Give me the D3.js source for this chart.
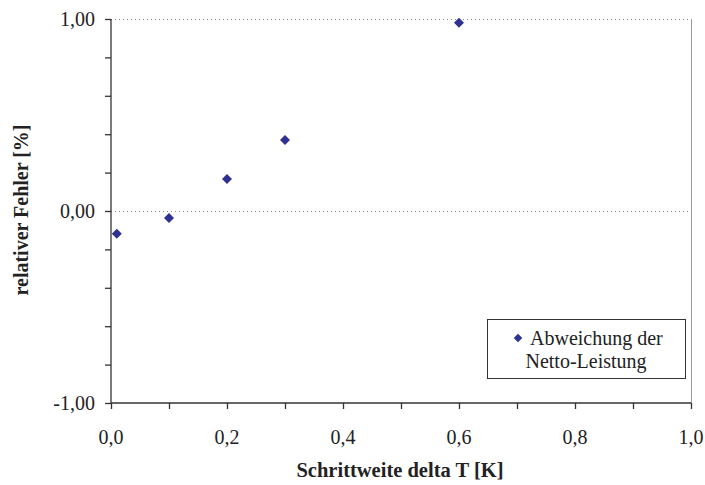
<!DOCTYPE html>
<html><head><meta charset="utf-8">
<script src="https://cdn.jsdelivr.net/npm/d3@7"></script>
<style>body{margin:0;background:#fff}svg{display:block}
text{font-family:"Liberation Serif",serif}</style>
</head><body>
<svg id="c" width="705" height="485"></svg>
<script>
const xValues = [0.01, 0.1, 0.2, 0.3, 0.6];
const yValues = [-0.118, -0.036, 0.167, 0.37, 0.98];
const seriesName = ["Abweichung der", "Netto-Leistung"];
const xTicks = [0, 0.2, 0.4, 0.6, 0.8, 1.0];
const yTicks = [-1, 0, 1];
const xTitle = "Schrittweite delta T [K]";
const yTitle = "relativer Fehler [%]";

const svg = d3.select("#c");
const L = 111, R = 691, T = 19, B = 403;
const x = d3.scaleLinear().domain([0, 1]).range([L, R]);
const y = d3.scaleLinear().domain([-1, 1]).range([B, T]);
const fmt = (d, n) => d.toFixed(n).replace(".", ",");

// gridlines (dotted)
svg.append("g").selectAll("line").data(yTicks.filter(d => d > -1)).join("line")
  .attr("x1", L).attr("x2", R).attr("y1", d => y(d)).attr("y2", d => y(d))
  .attr("stroke", "#888").attr("stroke-width", 1).attr("stroke-dasharray", "1,3")
  .attr("shape-rendering", "crispEdges");
// right border
svg.append("line").attr("x1", R).attr("x2", R).attr("y1", T).attr("y2", B)
  .attr("stroke", "#999").attr("stroke-width", 1).attr("shape-rendering", "crispEdges");

// axes
const xAxis = d3.axisBottom(x).tickValues(d3.range(0, 1.0001, 0.1)).tickSize(6).tickFormat("");
const gx = svg.append("g").attr("transform", `translate(0,${B})`).call(xAxis);
const yAxis = d3.axisLeft(y).tickValues(d3.range(-1, 1.0001, 0.2)).tickSize(6).tickFormat("");
const gy = svg.append("g").attr("transform", `translate(${L},0)`).call(yAxis);
[gx, gy].forEach(g => {
  g.selectAll("path,line").attr("stroke", "#333").attr("stroke-width", 1.3);
  g.select(".domain").attr("d", g === gx ? `M${L},0H${R}` : `M0,${T}V${B}`);
});

// tick labels
svg.append("g").selectAll("text").data(xTicks).join("text")
  .attr("x", d => x(d)).attr("y", 444).attr("text-anchor", "middle")
  .attr("font-size", 20).attr("fill", "#222")
  .text(d => fmt(d, 1));
svg.append("g").selectAll("text").data(yTicks).join("text")
  .attr("x", 95).attr("y", d => y(d) + 7).attr("text-anchor", "end")
  .attr("font-size", 20).attr("fill", "#222")
  .text(d => fmt(d, 2));

// titles
svg.append("text").attr("x", 400).attr("y", 477).attr("text-anchor", "middle")
  .attr("font-size", 20.5).attr("font-weight", "bold").attr("fill", "#222")
  .text(xTitle);
svg.append("text").attr("transform", `translate(28,210) rotate(-90)`).attr("text-anchor", "middle")
  .attr("font-size", 20).attr("font-weight", "bold").attr("fill", "#222")
  .text(yTitle);

// points
const diamond = d3.symbol().type(d3.symbolSquare).size(50);
svg.append("g").selectAll("path").data(xValues.map((v, i) => [v, yValues[i]])).join("path")
  .attr("d", diamond).attr("transform", d => `translate(${x(d[0])},${y(d[1])}) rotate(45)`)
  .attr("fill", "#2e3192");

// legend
const lg = svg.append("g");
lg.append("rect").attr("x", 487.5).attr("y", 319.5).attr("width", 198).attr("height", 59)
  .attr("fill", "#fff").attr("stroke", "#333").attr("stroke-width", 1);
lg.append("path").attr("d", d3.symbol().type(d3.symbolSquare).size(36))
  .attr("transform", "translate(518,338) rotate(45)").attr("fill", "#2e3192");
lg.append("text").attr("x", 530).attr("y", 345).attr("font-size", 20)
  .attr("fill", "#222").text(seriesName[0]);
lg.append("text").attr("x", 586).attr("y", 368).attr("text-anchor", "middle").attr("font-size", 20)
  .attr("fill", "#222").text(seriesName[1]);
</script>
</body></html>
